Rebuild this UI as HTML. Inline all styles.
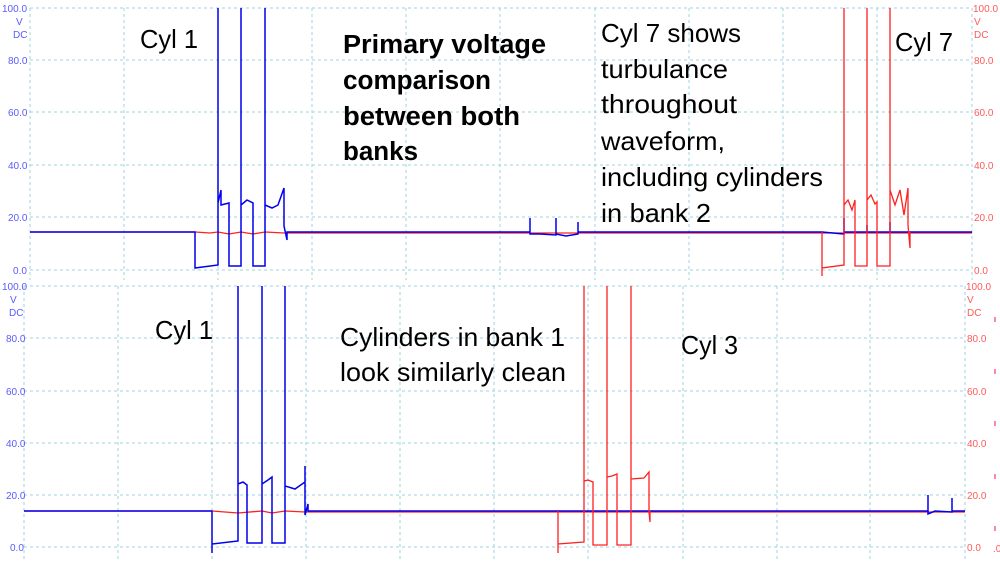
<!DOCTYPE html>
<html><head><meta charset="utf-8"><style>
html,body{margin:0;padding:0;background:#fff;}
svg{display:block;}
.g{stroke:#9fd3e0;stroke-width:1;stroke-dasharray:3,3;fill:none;}
.lb{font-family:"Liberation Sans",sans-serif;font-size:10px;fill:#5a5aff;}
.lr{font-family:"Liberation Sans",sans-serif;font-size:10px;fill:#ff5a5a;}
.t{font-family:"Liberation Sans",sans-serif;font-size:26px;fill:#000;}
.tb{font-family:"Liberation Sans",sans-serif;font-size:25.5px;font-weight:bold;fill:#000;}
.b{stroke:#0000ee;stroke-width:1.5;fill:none;}
.r{stroke:#ff2020;stroke-width:1.3;fill:none;}
</style></head><body>
<svg width="1000" height="562" viewBox="0 0 1000 562" xmlns="http://www.w3.org/2000/svg">
<g class="g">
<path d="M30 8H972M30 60H972M30 112H972M30 165H972M30 217H972M30 270H972"/>
<path d="M30 8V280M124 8V280M218 8V280M312 8V280M406 8V280M500 8V280M595 8V280M689 8V280M783 8V280M877 8V280M972 8V280"/>
</g>
<g class="g">
<path d="M24 286H965M24 338H965M24 391H965M24 443H965M24 495H965M24 547H965"/>
<path d="M24 286V562M118 286V562M212 286V562M306 286V562M400 286V562M494 286V562M588 286V562M683 286V562M777 286V562M870 286V562M965 286V562"/>
</g>
<g class="lb"><text x="2" y="12">100.0</text><text x="16" y="25">V</text><text x="13" y="38">DC</text><text x="8" y="64">80.0</text><text x="8" y="116">60.0</text><text x="8" y="169">40.0</text><text x="8" y="221">20.0</text><text x="13" y="274">0.0</text></g>
<g class="lr"><text x="973" y="12">100.0</text><text x="974" y="25">V</text><text x="974" y="38">DC</text><text x="974" y="64">80.0</text><text x="974" y="116">60.0</text><text x="974" y="169">40.0</text><text x="974" y="221">20.0</text><text x="974" y="274">0.0</text></g>
<g class="lb"><text x="2" y="290">100.0</text><text x="10" y="303">V</text><text x="9" y="316">DC</text><text x="6" y="342">80.0</text><text x="6" y="395">60.0</text><text x="6" y="447">40.0</text><text x="6" y="499">20.0</text><text x="10" y="551">0.0</text></g>
<g class="lr"><text x="966" y="290">100.0</text><text x="967" y="303">V</text><text x="967" y="316">DC</text><text x="967" y="342">80.0</text><text x="967" y="395">60.0</text><text x="967" y="447">40.0</text><text x="967" y="499">20.0</text><text x="967" y="551">0.0</text><text x="993" y="552">.0</text></g>
<g stroke="#ff5a9a" stroke-width="1.5"><path d="M995 317v5M995 369v5M995 421v5M995 474v5M995 526v5"/></g>
<path class="r" d="M30 232H195L210 233L218 232L229 234L241 232L253 234L265 232L284 233H972"/>
<path class="b" d="M30 232H195V268L218 265V8V203L221 190V205L229 203V266H241V8V130V205L247 200L253 203V266H265V8V160V205L272 208L278 205L284 188V226L287 240V232H530V218V234H540L556 235V218V234L566 236L578 234V222V232H822L844 234V218V232H867V225V232H890V222V232H972"/>
<path class="r" d="M822 232V276V268L844 265V8V160V205L848 200L852 210L855 200V266H867V8V180V200L871 195L875 204L877 202V266H890V8V190L895 205L900 190L904 215L908 188V225L910 248V232"/>
<path class="r" d="M24 511H212L238 513L262 511L272 513L285 511L305 512H965"/>
<path class="b" d="M24 511H212V553V544L238 541V286V440V484L243 482L247 485V543H262V286V308V484L268 480L272 477V543H285V286V466V486L295 489L305 482V466L305 515L308 504V511H928V495V514L935 511L952 512V498V511H965"/>
<path class="r" d="M558 511V553V544L584 542V286V445V481L588 480L593 482V545H607V286V455V477L612 476L617 474V545H631V286V458V479L644 478L649 472V512L650 522V511"/>
<text class="t" x="140" y="48" textLength="58" lengthAdjust="spacingAndGlyphs">Cyl 1</text>
<text class="tb" x="343" y="53" textLength="203" lengthAdjust="spacingAndGlyphs">Primary voltage</text>
<text class="tb" x="343" y="89" textLength="148" lengthAdjust="spacingAndGlyphs">comparison</text>
<text class="tb" x="343" y="125" textLength="177" lengthAdjust="spacingAndGlyphs">between both</text>
<text class="tb" x="343" y="160" textLength="75" lengthAdjust="spacingAndGlyphs">banks</text>
<text class="t" x="601" y="42" textLength="140" lengthAdjust="spacingAndGlyphs">Cyl 7 shows</text>
<text class="t" x="601" y="78" textLength="127" lengthAdjust="spacingAndGlyphs">turbulance</text>
<text class="t" x="601" y="113" textLength="136" lengthAdjust="spacingAndGlyphs">throughout</text>
<text class="t" x="601" y="150" textLength="124" lengthAdjust="spacingAndGlyphs">waveform,</text>
<text class="t" x="601" y="186" textLength="222" lengthAdjust="spacingAndGlyphs">including cylinders</text>
<text class="t" x="601" y="222" textLength="110" lengthAdjust="spacingAndGlyphs">in bank 2</text>
<text class="t" x="895" y="51" textLength="58" lengthAdjust="spacingAndGlyphs">Cyl 7</text>
<text class="t" x="155" y="339" textLength="58" lengthAdjust="spacingAndGlyphs">Cyl 1</text>
<text class="t" x="340" y="346" textLength="225" lengthAdjust="spacingAndGlyphs">Cylinders in bank 1</text>
<text class="t" x="340" y="381" textLength="226" lengthAdjust="spacingAndGlyphs">look similarly clean</text>
<text class="t" x="681" y="354" textLength="57" lengthAdjust="spacingAndGlyphs">Cyl 3</text>
</svg>
</body></html>
